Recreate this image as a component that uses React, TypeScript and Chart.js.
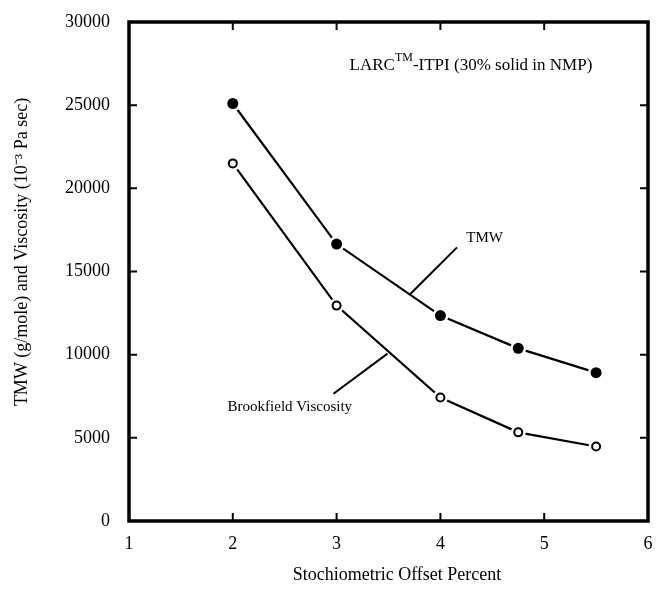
import React, { useEffect, useRef } from "react";
import { Chart, registerables } from "chart.js";

Chart.register(...registerables);

const offsetPercent = [2, 3, 4, 4.75, 5.5];
const tmwValues = [25100, 16650, 12350, 10380, 8920];
const viscosityValues = [21500, 12950, 7420, 5330, 4480];
const xTicks = [1, 2, 3, 4, 5, 6];
const yTicks = [0, 5000, 10000, 15000, 20000, 25000, 30000];

const tmwLabel = "TMW";
const tmwLabelPos = { x: 4.25, y: 17000 };
const tmwLeader = [{ x: 3.71, y: 13650 }, { x: 4.16, y: 16450 }];
const viscLabel = "Brookfield Viscosity";
const viscLabelPos = { x: 1.95, y: 6870 };
const viscLeader = [{ x: 2.97, y: 7650 }, { x: 3.49, y: 10060 }];
const headerPos = { x: 3.125, y: 27400 };

const SERIF = "'Liberation Serif', 'Times New Roman', serif";

const pts = (ys: number[]) => offsetPercent.map((x, i) => ({ x, y: ys[i] }));

const framePlugin = {
  id: "frame",
  afterDraw(chart: any) {
    const { ctx, chartArea: a, scales } = chart;
    const xs = scales.x, ys = scales.y;
    ctx.save();
    ctx.strokeStyle = "#000";
    ctx.lineWidth = 3.5;
    ctx.strokeRect(a.left, a.top, a.right - a.left, a.bottom - a.top);
    ctx.lineWidth = 2;
    const tl = 8;
    ctx.beginPath();
    xTicks.slice(1, -1).forEach((v) => {
      const px = xs.getPixelForValue(v);
      ctx.moveTo(px, a.bottom); ctx.lineTo(px, a.bottom - tl);
      ctx.moveTo(px, a.top); ctx.lineTo(px, a.top + tl);
    });
    yTicks.slice(1, -1).forEach((v) => {
      const py = ys.getPixelForValue(v);
      ctx.moveTo(a.left, py); ctx.lineTo(a.left + tl, py);
      ctx.moveTo(a.right, py); ctx.lineTo(a.right - tl, py);
    });
    ctx.stroke();

    // leader lines
    ctx.lineWidth = 2;
    [tmwLeader, viscLeader].forEach((seg) => {
      ctx.beginPath();
      ctx.moveTo(xs.getPixelForValue(seg[0].x), ys.getPixelForValue(seg[0].y));
      ctx.lineTo(xs.getPixelForValue(seg[1].x), ys.getPixelForValue(seg[1].y));
      ctx.stroke();
    });

    ctx.fillStyle = "#000";
    ctx.textBaseline = "middle";
    ctx.textAlign = "left";
    ctx.font = `15px ${SERIF}`;
    ctx.fillText(tmwLabel, xs.getPixelForValue(tmwLabelPos.x), ys.getPixelForValue(tmwLabelPos.y));
    ctx.fillText(viscLabel, xs.getPixelForValue(viscLabelPos.x), ys.getPixelForValue(viscLabelPos.y));

    // header
    let hx = xs.getPixelForValue(headerPos.x);
    const hy = ys.getPixelForValue(headerPos.y);
    ctx.font = `17px ${SERIF}`;
    ctx.fillText("LARC", hx, hy);
    hx += ctx.measureText("LARC").width;
    ctx.font = `12px ${SERIF}`;
    ctx.fillText("TM", hx, hy - 7);
    hx += ctx.measureText("TM").width;
    ctx.font = `17px ${SERIF}`;
    ctx.fillText("-ITPI (30% solid in NMP)", hx, hy);

    // axis titles
    ctx.font = `18px ${SERIF}`;
    ctx.textAlign = "center";
    ctx.fillText("Stochiometric Offset Percent", 397, 575);
    ctx.save();
    ctx.translate(22, 252);
    ctx.rotate(-Math.PI / 2);
    ctx.fillText("TMW (g/mole) and Viscosity (10\u207B\u00B3 Pa sec)", 0, 0);
    ctx.restore();
    ctx.restore();
  },
};

export default function App() {
  const ref = useRef<HTMLCanvasElement>(null);
  useEffect(() => {
    if (!ref.current) return;
    const chart = new Chart(ref.current, {
      type: "scatter",
      data: {
        datasets: [
          { label: "TMW line", data: pts(tmwValues), showLine: true, borderColor: "#000", borderWidth: 2.2, pointRadius: 0, order: 3 },
          { label: "Visc line", data: pts(viscosityValues), showLine: true, borderColor: "#000", borderWidth: 2.2, pointRadius: 0, order: 3 },
          { label: "TMW halo", data: pts(tmwValues), showLine: false, pointRadius: 8, backgroundColor: "#fff", borderColor: "#fff", borderWidth: 0, order: 2 },
          { label: "Visc halo", data: pts(viscosityValues), showLine: false, pointRadius: 7.5, backgroundColor: "#fff", borderColor: "#fff", borderWidth: 0, order: 2 },
          { label: "TMW", data: pts(tmwValues), showLine: false, pointRadius: 5.5, backgroundColor: "#000", borderColor: "#000", borderWidth: 0, order: 1 },
          { label: "Brookfield Viscosity", data: pts(viscosityValues), showLine: false, pointRadius: 4, backgroundColor: "#fff", borderColor: "#000", borderWidth: 2, order: 1 },
        ],
      },
      options: {
        animation: false,
        responsive: false,
        events: [],
        layout: { padding: { top: 22, right: 8, left: 0, bottom: 0 } },
        plugins: { legend: { display: false }, tooltip: { enabled: false } },
        scales: {
          x: {
            type: "linear",
            min: 1,
            max: 6,
            afterBuildTicks: (s: any) => { s.ticks = xTicks.map((v) => ({ value: v })); },
            afterFit: (s: any) => { s.height = 69; s.paddingRight = 0; s.paddingLeft = 0; },
            grid: { display: false },
            border: { display: false },
            ticks: { color: "#000", padding: 4, font: { family: SERIF, size: 18 } },
          },
          y: {
            type: "linear",
            min: 0,
            max: 30000,
            afterBuildTicks: (s: any) => { s.ticks = yTicks.map((v) => ({ value: v })); },
            afterFit: (s: any) => { s.width = 129; s.paddingTop = 0; s.paddingBottom = 0; },
            grid: { display: false },
            border: { display: false },
            ticks: { color: "#000", padding: 11, font: { family: SERIF, size: 18 }, callback: (v: any) => String(v) },
          },
        },
      },
      plugins: [framePlugin],
    });
    return () => chart.destroy();
  }, []);
  return (
    <div style={{ position: "fixed", left: 0, top: 0, width: 656, height: 590, background: "#fff" }}>
      <canvas ref={ref} width={656} height={590} style={{ width: 656, height: 590 }} />
    </div>
  );
}
